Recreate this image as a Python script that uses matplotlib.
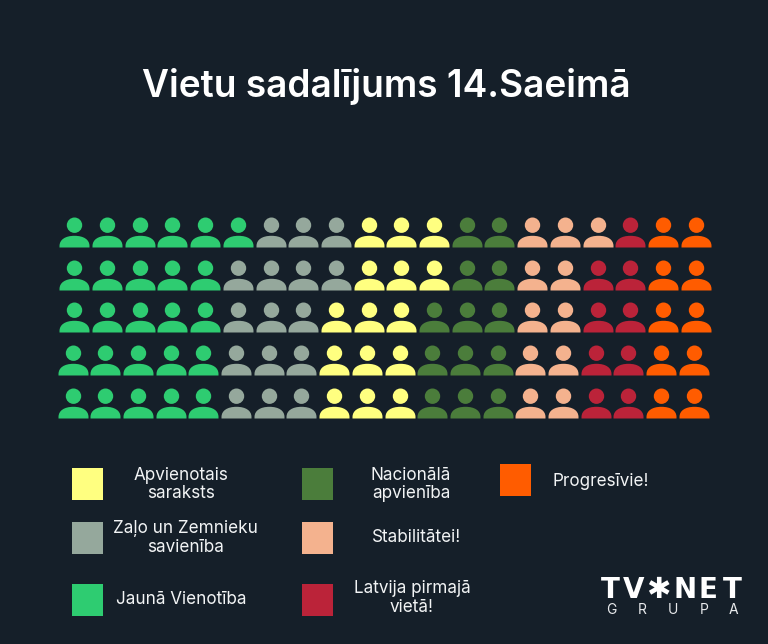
import matplotlib
matplotlib.use("Agg")
import matplotlib.pyplot as plt
from matplotlib.path import Path
from matplotlib.patches import Rectangle
import numpy as np

BG = "#151f29"
FONT = "Inter"

parties = ["Jaunā Vienotība", "Zaļo un Zemnieku\nsavienība", "Apvienotais\nsaraksts",
           "Nacionālā\napvienība", "Stabilitātei!", "Latvija pirmajā\nvietā!", "Progresīvie!"]
colors = ["#2ecc71", "#95a89c", "#ffff80", "#4b7d3b", "#f4b28e", "#bb2339", "#ff5c00"]

row1 = [6, 3, 3, 2, 3, 1, 2]
row2 = [5, 4, 3, 2, 2, 2, 2]
row3 = [5, 3, 3, 3, 2, 2, 2]
row4 = [5, 3, 3, 3, 2, 2, 2]
row5 = [5, 3, 3, 3, 2, 2, 2]
rows = [row1, row2, row3, row4, row5]
row_y = [232.3, 274.6, 317.0, 360.0, 403.0]
row_x0 = [74.3, 74.3, 74.3, 72.5, 72.5]
pitch = 32.7

# person glyph in pixel units, centred
def person():
    c = 0.5523
    r = 7.7
    cy = 7.3
    head = [(0, cy + r), (c*r, cy + r), (r, cy + c*r), (r, cy),
            (r, cy - c*r), (c*r, cy - r), (0, cy - r),
            (-c*r, cy - r), (-r, cy - c*r), (-r, cy),
            (-r, cy + c*r), (-c*r, cy + r), (0, cy + r)]
    hc = [Path.MOVETO] + [Path.CURVE4] * 12
    top, bot, w = -3.3, -15.0, 15.0
    side = bot + 1.5
    h = top - side
    k = 0.62
    body = [(-w, bot), (w, bot), (w, side), (w, side + k*h), (k*w, top), (0, top),
            (-k*w, top), (-w, side + k*h), (-w, side), (-w, bot), (-w, bot)]
    bc = [Path.MOVETO, Path.LINETO, Path.LINETO, Path.CURVE4, Path.CURVE4, Path.CURVE4,
          Path.CURVE4, Path.CURVE4, Path.CURVE4, Path.LINETO, Path.CLOSEPOLY]
    return Path(head + body, hc + bc)

fig = plt.figure(figsize=(7.68, 6.44), dpi=100, facecolor=BG)
ax = fig.add_axes([0, 0, 1, 1])
ax.set_xlim(0, 768)
ax.set_ylim(644, 0)
ax.axis("off")

marker = person()
size = (30 * 72 / 100) ** 2
for counts, y, x0 in zip(rows, row_y, row_x0):
    col = 0
    for n, color in zip(counts, colors):
        xs = [x0 + pitch * (col + i) for i in range(n)]
        ax.scatter(xs, [y] * n, marker=marker, s=size, color=color, linewidths=0)
        col += n

ax.text(386.5, 86, "Vietu sadalījums 14.Saeimā", color="white", fontsize=26.7,
        fontweight="semibold", family=FONT, ha="center", va="center")

# legend: square left, square top, text centre x, text centre y
square_x = [71.7, 71.7, 71.7, 301.5, 301.5, 301.5, 499.7]
square_y = [584, 522, 468, 468, 522, 584, 464.4]
label_x = [181, 185.7, 181, 411, 417, 412, 601]
label_y = [599, 538, 484.5, 484.5, 538, 598, 481]
for c, sx, sy, lab, lx, ly in zip(colors, square_x, square_y, parties, label_x, label_y):
    ax.add_patch(Rectangle((sx, sy), 31, 31.5, facecolor=c, edgecolor="none"))
    ax.text(lx, ly, lab, color="#f2f4f5", fontsize=12.3, family=FONT, ha="center",
            va="center", linespacing=1.12)

# logo
for ch, x in zip("TVNET", [610.5, 634, 685, 708, 732.5]):
    ax.text(x, 589.5, ch, color="white", fontsize=20, fontweight="bold",
            family="DejaVu Sans", ha="center", va="center")
ax.text(658.5, 590.5, "✱", color="white", fontsize=21, family="DejaVu Sans", ha="center", va="center")
for ch, x in zip("GRUPA", [611, 642, 673, 704, 733]):
    ax.text(x, 610, ch, color="#e8eaec", fontsize=10, family=FONT, ha="center", va="center")

fig.savefig("out.png", dpi=100, facecolor=BG)
